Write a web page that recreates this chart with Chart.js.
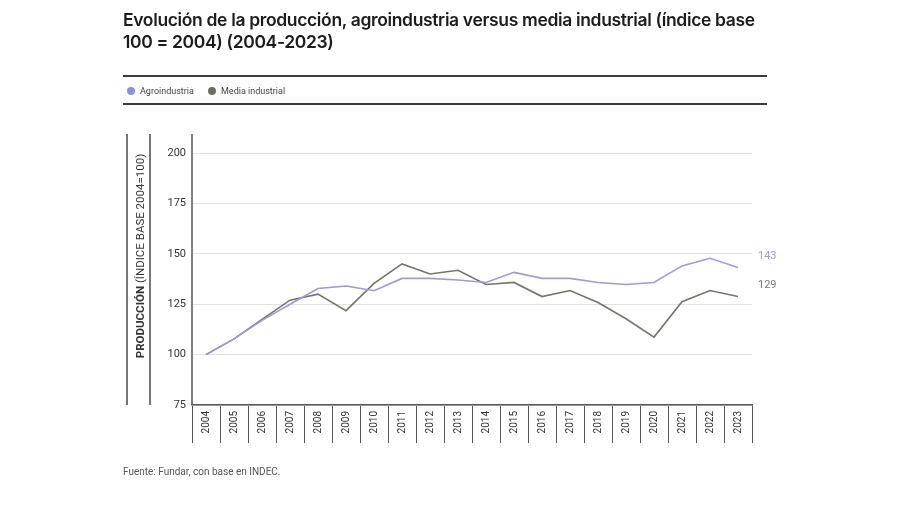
<!DOCTYPE html>
<html lang="es">
<head>
<meta charset="utf-8">
<script src="https://cdn.jsdelivr.net/npm/chart.js@4.4.1/dist/chart.umd.min.js"></script>
<style>
    body {margin: 0; background: #fff; font-family: Roboto, "Noto Sans", sans-serif;}
    #wrap {position: relative; width: 900px; height: 505px; overflow: hidden;}
    #chart {position: absolute; left: 0; top: 0;}
    .title {position: absolute; left: 123px; top: 9px; width: 740px; font-family: Inter, Roboto, sans-serif; font-size: 17.5px; font-weight: 600; line-height: 22px; color: #1c1c1c; letter-spacing: -0.35px;}
    .rule {position: absolute; left: 123px; width: 644px; height: 2px; background: #3b3b3b;}
    .legend-item {position: absolute; top: 85px; font-size: 9px; line-height: 12px; color: #444; white-space: nowrap;}
    .legend-item i {display: inline-block; width: 8px; height: 8px; border-radius: 50%; vertical-align: -1px; margin-right: 5px;}
    .source {position: absolute; left: 123px; top: 466px; font-size: 10px; color: #555;}
</style>
</head>
<body>
<div id="wrap">
    <canvas id="chart" width="900" height="505"></canvas>
    <div class="title">Evolución de la producción, agroindustria versus media industrial (índice base<br>100 = 2004) (2004-2023)</div>
    <div class="rule" style="top:75px"></div>
    <div id="legend"></div>
    <div class="rule" style="top:103px"></div>
    <div class="source">Fuente: Fundar, con base en INDEC.</div>
</div>
<script>
const years = ['2004', '2005', '2006', '2007', '2008', '2009', '2010', '2011', '2012', '2013',
    '2014', '2015', '2016', '2017', '2018', '2019', '2020', '2021', '2022', '2023'];
const agroindustria = [100, 107.8, 117, 125, 132.8, 134, 131.7, 137.8, 137.8, 137,
    135.8, 140.8, 137.8, 137.8, 135.8, 134.8, 135.8, 144, 147.8, 143.2];
const mediaIndustrial = [100, 107.8, 117.5, 127, 130, 121.8, 135.3, 145, 140, 141.8,
    134.8, 135.8, 128.8, 131.8, 125.8, 117.8, 108.7, 126.2, 131.8, 128.8];
const yMin = 75;
const yMax = 200;
const yStep = 25;

const agroColor = '#9d9dd3'
const mediaColor = '#75756c'
const legendDots = ['#8e8ed8', '#6c6c64']

// leyenda en html, como en el original
const legend = document.getElementById('legend')
const legendX = [127, 208]
;[['Agroindustria', 0], ['Media industrial', 1]].forEach(([name, i]) => {
    const el = document.createElement('div')
    el.className = 'legend-item'
    el.style.left = legendX[i] + 'px'
    el.innerHTML = '<i style="background:' + legendDots[i] + '"></i>' + name
    legend.appendChild(el)
})

const decor = {
    id: 'decor',
    afterDraw(chart) {
        const ctx = chart.ctx
        const area = chart.chartArea
        const x = chart.scales.x
        const y = chart.scales.y
        ctx.save()
        // eje y, un poco más alto que el área
        ctx.strokeStyle = '#555'
        ctx.lineWidth = 1.5
        ctx.beginPath()
        ctx.moveTo(area.left, 134)
        ctx.lineTo(area.left, area.bottom)
        ctx.stroke()
        // líneas a los costados del título del eje
        ctx.strokeStyle = '#4a4a4a'
        ctx.beginPath()
        ctx.moveTo(127, 134); ctx.lineTo(127, area.bottom)
        ctx.moveTo(150, 134); ctx.lineTo(150, area.bottom)
        ctx.stroke()

        // título eje y
        ctx.translate(141, 256)
        ctx.rotate(-Math.PI / 2)
        ctx.textBaseline = 'middle'
        ctx.fillStyle = '#333'
        const bold = 'PRODUCCIÓN'
        const rest = ' (ÍNDICE BASE 2004=100)'
        ctx.font = 'bold 11.5px Roboto'
        const w1 = ctx.measureText(bold).width
        ctx.font = '11.5px Roboto'
        const w2 = ctx.measureText(rest).width
        let start = -(w1 + w2) / 2
        ctx.font = 'bold 11.5px Roboto'
        ctx.fillText(bold, start, 0)
        ctx.font = '11.5px Roboto'
        ctx.fillText(rest, start + w1, 0)
        ctx.restore()

        // etiquetas al final de cada serie
        ctx.save()
        ctx.font = '11px Roboto'
        ctx.textBaseline = 'middle'
        const last = years.length - 1
        const px = x.getPixelForValue(last)
        ctx.fillStyle = agroColor
        ctx.fillText(Math.round(agroindustria[last]), px + 20, y.getPixelForValue(agroindustria[last]) - 11)
        ctx.fillStyle = '#777'
        ctx.fillText(Math.round(mediaIndustrial[last]), px + 20, y.getPixelForValue(mediaIndustrial[last]) - 11)
        ctx.restore()
    }
}

new Chart(document.getElementById('chart'), {
    type: 'line',
    data: {
        labels: years,
        datasets: [{
            label: 'Agroindustria',
            data: agroindustria,
            borderColor: agroColor,
            borderWidth: 1.6,
            pointRadius: 0,
            tension: 0,
        }, {
            label: 'Media industrial',
            data: mediaIndustrial,
            borderColor: mediaColor,
            borderWidth: 1.6,
            pointRadius: 0,
            tension: 0,
        }]
    },
    options: {
        responsive: false,
        animation: false,
        devicePixelRatio: 1,
        layout: {padding: {left: 0, top: 153, right: 148, bottom: 0}},
        plugins: {
            legend: {display: false},
            tooltip: {enabled: false},
        },
        scales: {
            x: {
                offset: true,
                afterFit: (scale) => { scale.height = 100 },
                border: {color: '#555', width: 1.5},
                grid: {offset: true, drawOnChartArea: false, tickLength: 38, color: '#555'},
                ticks: {
                    autoSkip: false,
                    minRotation: 90,
                    maxRotation: 90,
                    padding: -32,
                    color: '#333',
                    font: {family: 'Roboto', size: 10},
                }
            },
            y: {
                min: yMin,
                max: yMax,
                afterFit: (scale) => { scale.width = 192 },
                border: {display: false},
                grid: {color: '#e2e2e2', drawTicks: false},
                ticks: {
                    stepSize: yStep,
                    padding: 6,
                    color: '#333',
                    font: {family: 'Roboto', size: 11},
                }
            }
        }
    },
    plugins: [decor]
})
</script>
</body>
</html>
